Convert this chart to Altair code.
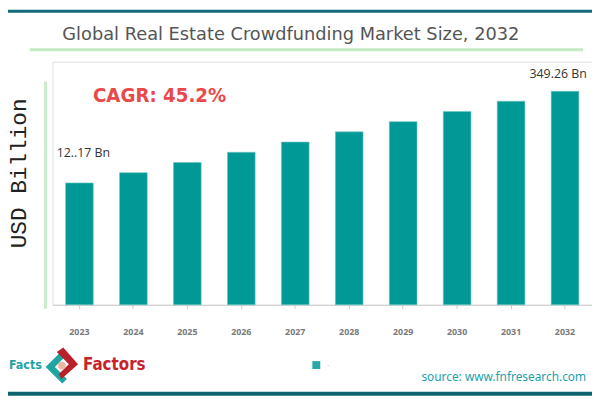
import altair as alt
import pandas as pd

# ---- data ----
years = ["2023", "2024", "2025", "2026", "2027", "2028", "2029", "2030", "2031", "2032"]
# bar heights as drawn (relative units; the picture's bars are not to value scale)
bar_heights = [123.3, 133.7, 144.0, 154.3, 164.7, 175.0, 185.3, 195.7, 206.0, 216.0]
first_label = "12..17 Bn"
last_label = "349.26 Bn"
title_text = "Global Real Estate Crowdfunding Market Size, 2032"
cagr_text = "CAGR: 45.2%"
y_title = "USD Billion"
source_text = "source: www.fnfresearch.com"

W, H = 546, 246
PAD = {"left": 45, "top": 52, "right": 0, "bottom": 93}
COND = "DejaVu Sans Condensed, DejaVu Sans, sans-serif"

bars_df = pd.DataFrame({"year": years, "height": bar_heights})

xscale = alt.Scale(domain=years, paddingInner=0.487, paddingOuter=0.2435)
yscale = alt.Scale(domain=[0, H])

bars = alt.Chart(bars_df).mark_bar(color="#009996", stroke="#6cc7c2", strokeWidth=0.6).encode(
    x=alt.X("year:N", scale=xscale, sort=years,
            axis=alt.Axis(title=None, labelAngle=0, labelFont="Open Sans", labelFontWeight="bold",
                          labelFontSize=9, labelColor="#7a7a7a", labelPadding=19,
                          tickColor="#cccccc", tickSize=4, domainColor="#cccccc", grid=False)),
    y=alt.Y("height:Q", scale=yscale, axis=None),
)

first_df = pd.DataFrame({"year": [years[0]], "height": [bar_heights[0]], "label": [first_label]})
last_df = pd.DataFrame({"year": [years[-1]], "height": [bar_heights[-1]], "label": [last_label]})

lab_first = alt.Chart(first_df).mark_text(font="Open Sans", fontSize=12.5, color="#333333",
                                          dx=4, dy=-30).encode(
    x=alt.X("year:N", scale=xscale, sort=years), y=alt.Y("height:Q", scale=yscale), text="label:N")
lab_last = alt.Chart(last_df).mark_text(font="Open Sans", fontSize=12.5, color="#333333",
                                        dx=-7, dy=-18).encode(
    x=alt.X("year:N", scale=xscale, sort=years), y=alt.Y("height:Q", scale=yscale), text="label:N")


def txt(s, x, y, **kw):
    return alt.Chart(pd.DataFrame({"t": [s]})).mark_text(**kw).encode(
        x=alt.value(x), y=alt.value(y), text="t:N")


def rule(x, x2, y, y2, color, sw):
    return alt.Chart(pd.DataFrame({"a": [0]})).mark_rule(color=color, strokeWidth=sw).encode(
        x=alt.value(x), x2=alt.value(x2), y=alt.value(y), y2=alt.value(y2))


# screen coords -> plot coords: x - 53, y - 60
top_line = rule(-53, W, -51, -51, "#12697a", 3)
bottom_line = rule(-53, W, 336, 336, "#0d6470", 4)
title_line = rule(-23, 537, -12, -12, "#c5eac5", 3)
left_line = rule(-7, -7, 20, 250, "#c8ecc8", 3)

title = txt(title_text, 10, -27, font="DejaVu Sans", fontSize=18, color="#555555", align="left",
            baseline="middle")
cagr = txt(cagr_text, 41, 35, font=COND, fontSize=20.5, fontWeight="bold",
           color="#e84a4a", align="left", baseline="middle")
ytitle = txt(y_title, -34, 113, font="Liberation Mono", fontSize=23, color="#222222", angle=270,
             align="center", baseline="middle")

legend_sq = alt.Chart(pd.DataFrame({"a": [0]})).mark_square(color="#26a9a9", size=64, opacity=1).encode(
    x=alt.value(267), y=alt.value(307))
legend_dot = txt(".", 279, 306, fontSize=8, color="#aaaaaa", align="center", baseline="middle")

source = txt(source_text, 540, 319, font="Noto Sans", fontSize=12, color="#1a9fab", align="right",
             baseline="middle")

# logo
facts = txt("Facts", -44, 307, font=COND, fontSize=12.5, fontWeight="bold",
            color="#22a3a3", align="left", baseline="middle")
factors = txt("Factors", 31, 307, font=COND, fontSize=17, fontWeight="bold",
              color="#c8232c", align="left", baseline="middle")
teal_path = "M -0.05 -0.75 L -0.85 0.05 L 0.05 0.95 L 0.3 0.7 L -0.35 0.05 L 0.2 -0.5 Z"
red_path = "M 0.05 -0.95 L 0.85 -0.05 L -0.05 0.75 L -0.2 0.5 L 0.35 -0.05 L -0.3 -0.7 Z"
icon_teal = alt.Chart(pd.DataFrame({"a": [0]})).mark_point(shape=teal_path, filled=True, color="#1fa5a0",
                                                            size=1400, opacity=1).encode(
    x=alt.value(9), y=alt.value(308))
icon_red = alt.Chart(pd.DataFrame({"a": [0]})).mark_point(shape=red_path, filled=True, color="#b8202a",
                                                           size=1400, opacity=1).encode(
    x=alt.value(10), y=alt.value(307))
icon_c = alt.Chart(pd.DataFrame({"a": [0]})).mark_point(shape="circle", filled=True, color="#e9b7a0",
                                                         size=60, opacity=1).encode(
    x=alt.value(9.5), y=alt.value(307.5))

chart = alt.layer(
    top_line, bottom_line, title_line, left_line,
    bars, lab_first, lab_last,
    title, cagr, ytitle, legend_sq, legend_dot, source,
    facts, factors, icon_teal, icon_red, icon_c,
).properties(
    width=W, height=H,
    autosize=alt.AutoSizeParams(type="none"),
    padding=PAD,
).configure_view(stroke=None).configure(background="white")

chart.save("out.html", embed_options={"renderer": "svg", "actions": False})
